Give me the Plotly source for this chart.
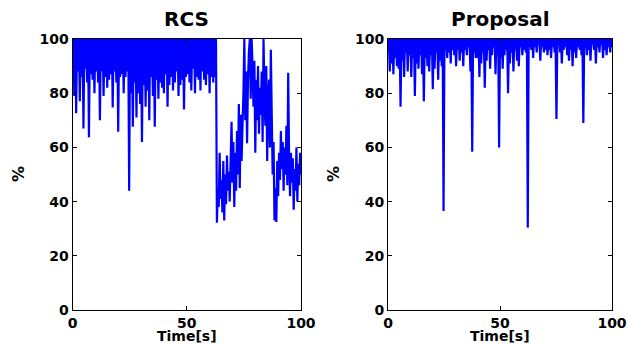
import numpy as np
import plotly.graph_objects as go

rcs_values = [
    # t 0 - 7.6
    93, 100, 79, 100, 72.6, 100, 88, 100, 77, 100, 86, 100, 67, 100, 89, 100, 84, 100, 63.7, 100,
    # t 8 - 15.6
    87, 100, 85, 100, 80, 100, 88, 100, 84, 100, 70, 100, 88, 100, 79, 100, 86, 100, 82, 100,
    # t 16 - 23.6
    85, 100, 87, 100, 74.7, 100, 88, 100, 84, 100, 65.8, 100, 86, 100, 87, 100, 80, 100, 86, 100,
    # t 24 - 31.6
    88, 100, 44, 100, 80, 100, 67.6, 100, 84, 100, 71, 100, 80, 100, 76, 100, 62, 100, 83, 100,
    # t 32 - 39.6
    75, 100, 81, 100, 70, 100, 86, 100, 79, 100, 67.6, 100, 85, 100, 78, 100, 84, 100, 82, 100,
    # t 40 - 47.6
    80, 100, 87, 100, 75, 100, 83, 100, 86, 100, 81, 100, 84, 100, 88, 100, 79, 100, 83, 100,
    # t 48 - 55.6
    85, 100, 74, 100, 86, 100, 87, 100, 84, 100, 81, 100, 89, 100, 80, 100, 86, 100, 85, 100,
    # t 56 - 62.8
    81, 100, 88, 100, 85, 100, 83, 100, 87, 100, 80, 100, 86, 100, 84, 100, 86, 100,
    # t 63.2 - 68.8
    32.2, 45, 38, 58, 41, 48, 36, 55, 33, 50, 39, 57, 44, 51, 40,
    # t 69.2 - 74.4
    55, 69.5, 47, 62, 38, 58, 44, 66, 50, 76, 45, 72, 55, 68,
    # t 74.8 - 78.8
    80, 100, 70, 88, 61.5, 85, 95, 100, 78, 100, 90,
    # t 79.2 - 84
    75, 92, 58, 85, 70, 90, 65, 82, 72, 88, 62, 100, 80,
    # t 84.4 - 87.2
    68, 90, 55, 78, 85, 60, 96, 72,
    # t 87.6 - 90
    50, 62, 33, 45, 32.5, 55, 42,
    # t 90.4 - 94.8
    58, 48, 66, 52, 62, 44, 60, 50, 68, 46, 87.5, 55,
    # t 95.2 - 100
    42, 58, 47, 56, 37, 52, 44, 60, 40, 54, 46, 58, 50,
]

proposal_values = [
    95, 100, 88, 100, 91, 100, 87, 100, 93, 100, 90, 100, 89, 100, 75, 100, 92, 100, 86, 100,
    95, 100, 88, 100, 94, 100, 86, 100, 93, 100, 79, 100, 91, 100, 89, 100, 94, 100, 87, 100,
    77, 100, 93, 100, 90, 100, 88, 100, 94, 100, 81.5, 100, 89, 100, 95, 100, 85, 100, 92, 100,
    90, 100, 36.5, 100, 96, 100, 93, 100, 95, 100, 91, 100, 96, 100, 94, 100, 90, 100, 96, 100,
    92, 100, 95, 100, 90, 100, 96, 100, 94, 100, 97, 100, 88, 100, 58.4, 100, 95, 100, 93, 100,
    93, 100, 86, 100, 91, 100, 95, 100, 82, 100, 92, 100, 96, 100, 89, 100, 94, 100, 97, 100,
    87, 100, 95, 100, 60, 100, 93, 100, 89, 100, 94, 100, 96, 100, 80, 100, 91, 100, 95, 100,
    88, 100, 96, 100, 92, 100, 90, 100, 97, 100, 94, 100, 96, 100, 95, 100, 30.4, 100, 97, 100,
    96, 100, 93, 100, 97, 100, 95, 100, 98, 100, 92, 100, 97, 100, 95, 100, 96, 100, 94, 100,
    96, 100, 93, 100, 97, 100, 95, 100, 70.5, 100, 98, 100, 95, 100, 91, 100, 96, 100, 97, 100,
    94, 100, 92, 100, 96, 100, 90, 100, 95, 100, 93, 100, 97, 100, 96, 100, 94, 100, 69, 100,
    97, 100, 94, 100, 96, 100, 92, 100, 98, 100, 96, 100, 91, 100, 97, 100, 95, 100, 98, 100,
    93, 100, 96, 100, 94, 100, 97, 100, 95, 100, 97,
]

t_end = 100
titles = ["RCS", "Proposal"]
x_label = "Time[s]"
y_label = "%"
x_ticks = [0, 50, 100]
y_ticks = [0, 20, 40, 60, 80, 100]

t_rcs = np.linspace(0, t_end, len(rcs_values))
t_prop = np.linspace(0, t_end, len(proposal_values))

W, H = 628, 345
def px(x):
    return x / W
def py(y):
    return 1 - y / H

BLUE = "#0000ff"
FONT = "DejaVu Sans"

fig = go.Figure()
fig.add_trace(go.Scatter(x=t_rcs, y=rcs_values, mode="lines",
                         line=dict(color=BLUE, width=2.2, simplify=False),
                         xaxis="x", yaxis="y", showlegend=False))
fig.add_trace(go.Scatter(x=t_prop, y=proposal_values, mode="lines",
                         line=dict(color=BLUE, width=2.2, simplify=False),
                         xaxis="x2", yaxis="y2", showlegend=False))

axis_common = dict(
    showline=True, linecolor="black", linewidth=1, mirror="ticks",
    ticks="inside", ticklen=4, tickcolor="black", tickwidth=1,
    showgrid=False, zeroline=False, fixedrange=True, automargin=False,
    tickfont=dict(family=FONT, size=14, color="black", weight="bold"),
)

dom_x1 = [px(72.5), px(301)]
dom_x2 = [px(388), px(612)]
dom_y = [py(310), py(39)]

fig.update_layout(
    width=W, height=H,
    margin=dict(l=0, r=0, t=0, b=0, autoexpand=False),
    paper_bgcolor="white", plot_bgcolor="white",
    xaxis=dict(domain=dom_x1, range=[0, 100], tickvals=x_ticks, anchor="y", **axis_common),
    yaxis=dict(domain=dom_y, range=[0, 100], tickvals=y_ticks, anchor="x", **axis_common),
    xaxis2=dict(domain=dom_x2, range=[0, 100], tickvals=x_ticks, anchor="y2", **axis_common),
    yaxis2=dict(domain=dom_y, range=[0, 100], tickvals=y_ticks, anchor="x2", **axis_common),
)

ann = []
centers = [(72.5 + 301) / 2, (388 + 612) / 2]
ylab_x = [18, 333]
for i in range(2):
    ann.append(dict(text=titles[i], x=px(centers[i]), y=py(19), xref="paper", yref="paper",
                    showarrow=False, xanchor="center", yanchor="middle",
                    font=dict(family=FONT, size=20, color="black", weight="bold")))
    ann.append(dict(text=x_label, x=px(centers[i]), y=py(336), xref="paper", yref="paper",
                    showarrow=False, xanchor="center", yanchor="middle",
                    font=dict(family=FONT, size=14, color="black", weight="bold")))
    ann.append(dict(text=y_label, x=px(ylab_x[i]), y=py(174), xref="paper", yref="paper",
                    showarrow=False, xanchor="center", yanchor="middle", textangle=-90,
                    font=dict(family=FONT, size=16, color="black", weight="bold")))
fig.update_layout(annotations=ann)

fig.write_html("out.html", config={"displayModeBar": False},
               post_script="document.body.style.margin='0px';")
